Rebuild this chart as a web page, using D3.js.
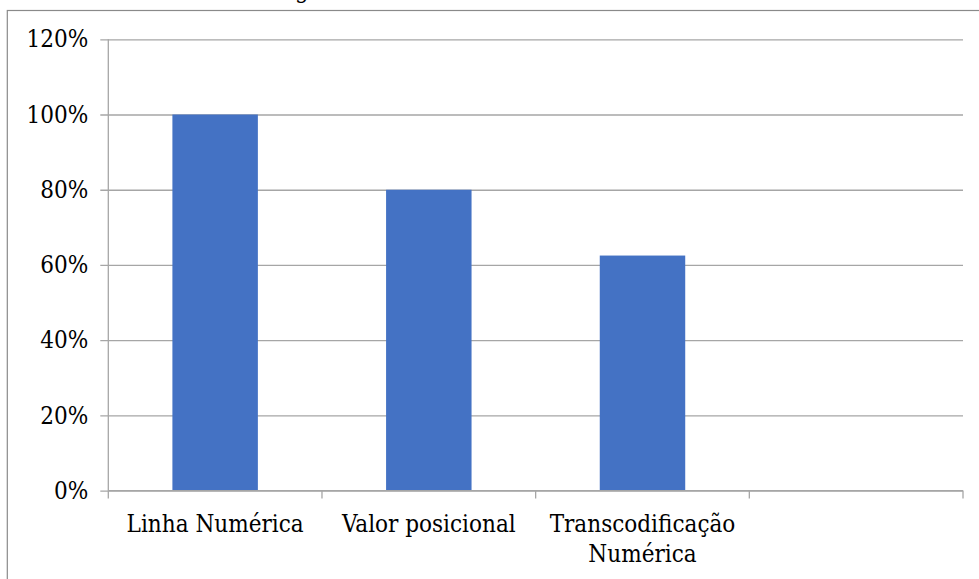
<!DOCTYPE html>
<html>
<head>
<meta charset="utf-8">
<script src="https://cdn.jsdelivr.net/npm/d3@7"></script>
<style>
  body { margin: 0; background: #fff; }
</style>
</head>
<body>
<div id="chart"></div>
<script>
// chart values
const categories = ['Linha Numérica', 'Valor posicional', 'Transcodificação Numérica', '']
const values = [1.0, 0.8, 0.625, null]
const yTicks = [0, 0.2, 0.4, 0.6, 0.8, 1.0, 1.2]

const SERIF = "'DejaVu Serif Condensed', 'DejaVu Serif', serif"

;(function () {
  const W = 979
  const H = 579
  const margin = { top: 39.3, right: 16, bottom: 88.4, left: 108.3 }
  const width = W - margin.left - margin.right
  const height = H - margin.top - margin.bottom

  const root = d3.select('#chart').append('svg')
    .attr('width', W)
    .attr('height', H)
    .style('font-family', SERIF)
    .style('font-stretch', 'condensed')

  // outer frame (runs off the right / bottom of the picture)
  root.append('rect')
    .attr('x', 7.3)
    .attr('y', 10.5)
    .attr('width', W + 20)
    .attr('height', H + 20)
    .attr('fill', 'none')
    .attr('stroke', '#8a8a8a')
    .attr('stroke-width', 1.2)

  // leftover of a caption cut off above the chart
  root.append('text')
    .attr('x', 295)
    .attr('y', -2)
    .attr('font-size', 24)
    .attr('fill', '#000')
    .text('g')

  const svg = root.append('g')
    .attr('transform', 'translate(' + margin.left + ',' + margin.top + ')')

  const xPositionScale = d3.scaleBand()
    .domain(categories.map((d, i) => i))
    .range([0, width])
    .paddingInner(0.6)
    .paddingOuter(0.3)

  const yPositionScale = d3.scaleLinear()
    .domain([0, 1.2])
    .range([height, 0])

  // gridlines + y labels
  const yAxis = d3.axisLeft(yPositionScale)
    .tickValues(yTicks)
    .tickFormat(d3.format('.0%'))
    .tickSize(-width)
    .tickPadding(20)

  const yg = svg.append('g')
    .attr('class', 'axis y-axis')
    .call(yAxis)
  yg.attr('font-family', null)
  yg.select('.domain').remove()
  yg.selectAll('.tick line')
    .attr('stroke', '#a6a6a6')
    .attr('stroke-width', 1.3)
    .attr('x1', -8)
  yg.selectAll('.tick text')
    .attr('font-size', 24)
    .attr('fill', '#000')

  // vertical axis line
  svg.append('line')
    .attr('x1', 0).attr('x2', 0)
    .attr('y1', 0).attr('y2', height)
    .attr('stroke', '#a6a6a6')
    .attr('stroke-width', 1.3)

  // bars
  const data = categories.map((c, i) => ({ i: i, name: c, value: values[i] }))
  svg.selectAll('rect.bar')
    .data(data.filter(d => d.value != null))
    .join('rect')
    .attr('class', 'bar')
    .attr('x', d => xPositionScale(d.i))
    .attr('width', xPositionScale.bandwidth())
    .attr('y', d => yPositionScale(d.value))
    .attr('height', d => height - yPositionScale(d.value))
    .attr('fill', '#4472c4')

  // x axis: line, ticks between categories, labels
  const step = xPositionScale.step()
  const edges = categories.map((d, i) => xPositionScale(i) - step * 0.3).concat([width])

  const xg = svg.append('g')
    .attr('class', 'axis x-axis')
    .attr('transform', 'translate(0,' + height + ')')

  xg.append('line')
    .attr('x1', 0).attr('x2', width)
    .attr('stroke', '#a6a6a6')
    .attr('stroke-width', 1.3)

  xg.selectAll('line.tk')
    .data(edges)
    .join('line')
    .attr('class', 'tk')
    .attr('x1', d => d).attr('x2', d => d)
    .attr('y1', 0).attr('y2', 8)
    .attr('stroke', '#a6a6a6')
    .attr('stroke-width', 1.3)

  const labels = xg.selectAll('text.lbl')
    .data(data)
    .join('text')
    .attr('class', 'lbl')
    .attr('x', d => xPositionScale(d.i) + xPositionScale.bandwidth() / 2)
    .attr('y', 41)
    .attr('text-anchor', 'middle')
    .attr('font-size', 24)
    .attr('fill', '#000')

  // wrap labels that are wider than a category slot
  labels.each(function (d) {
    const t = d3.select(this)
    const x = t.attr('x')
    t.text(d.name)
    if (this.getComputedTextLength() <= step - 10) return
    const words = d.name.split(' ')
    t.text(null)
    words.forEach((w, k) => {
      t.append('tspan')
        .attr('x', x)
        .attr('dy', k === 0 ? 0 : 30)
        .text(w)
    })
  })
})();
</script>
</body>
</html>
